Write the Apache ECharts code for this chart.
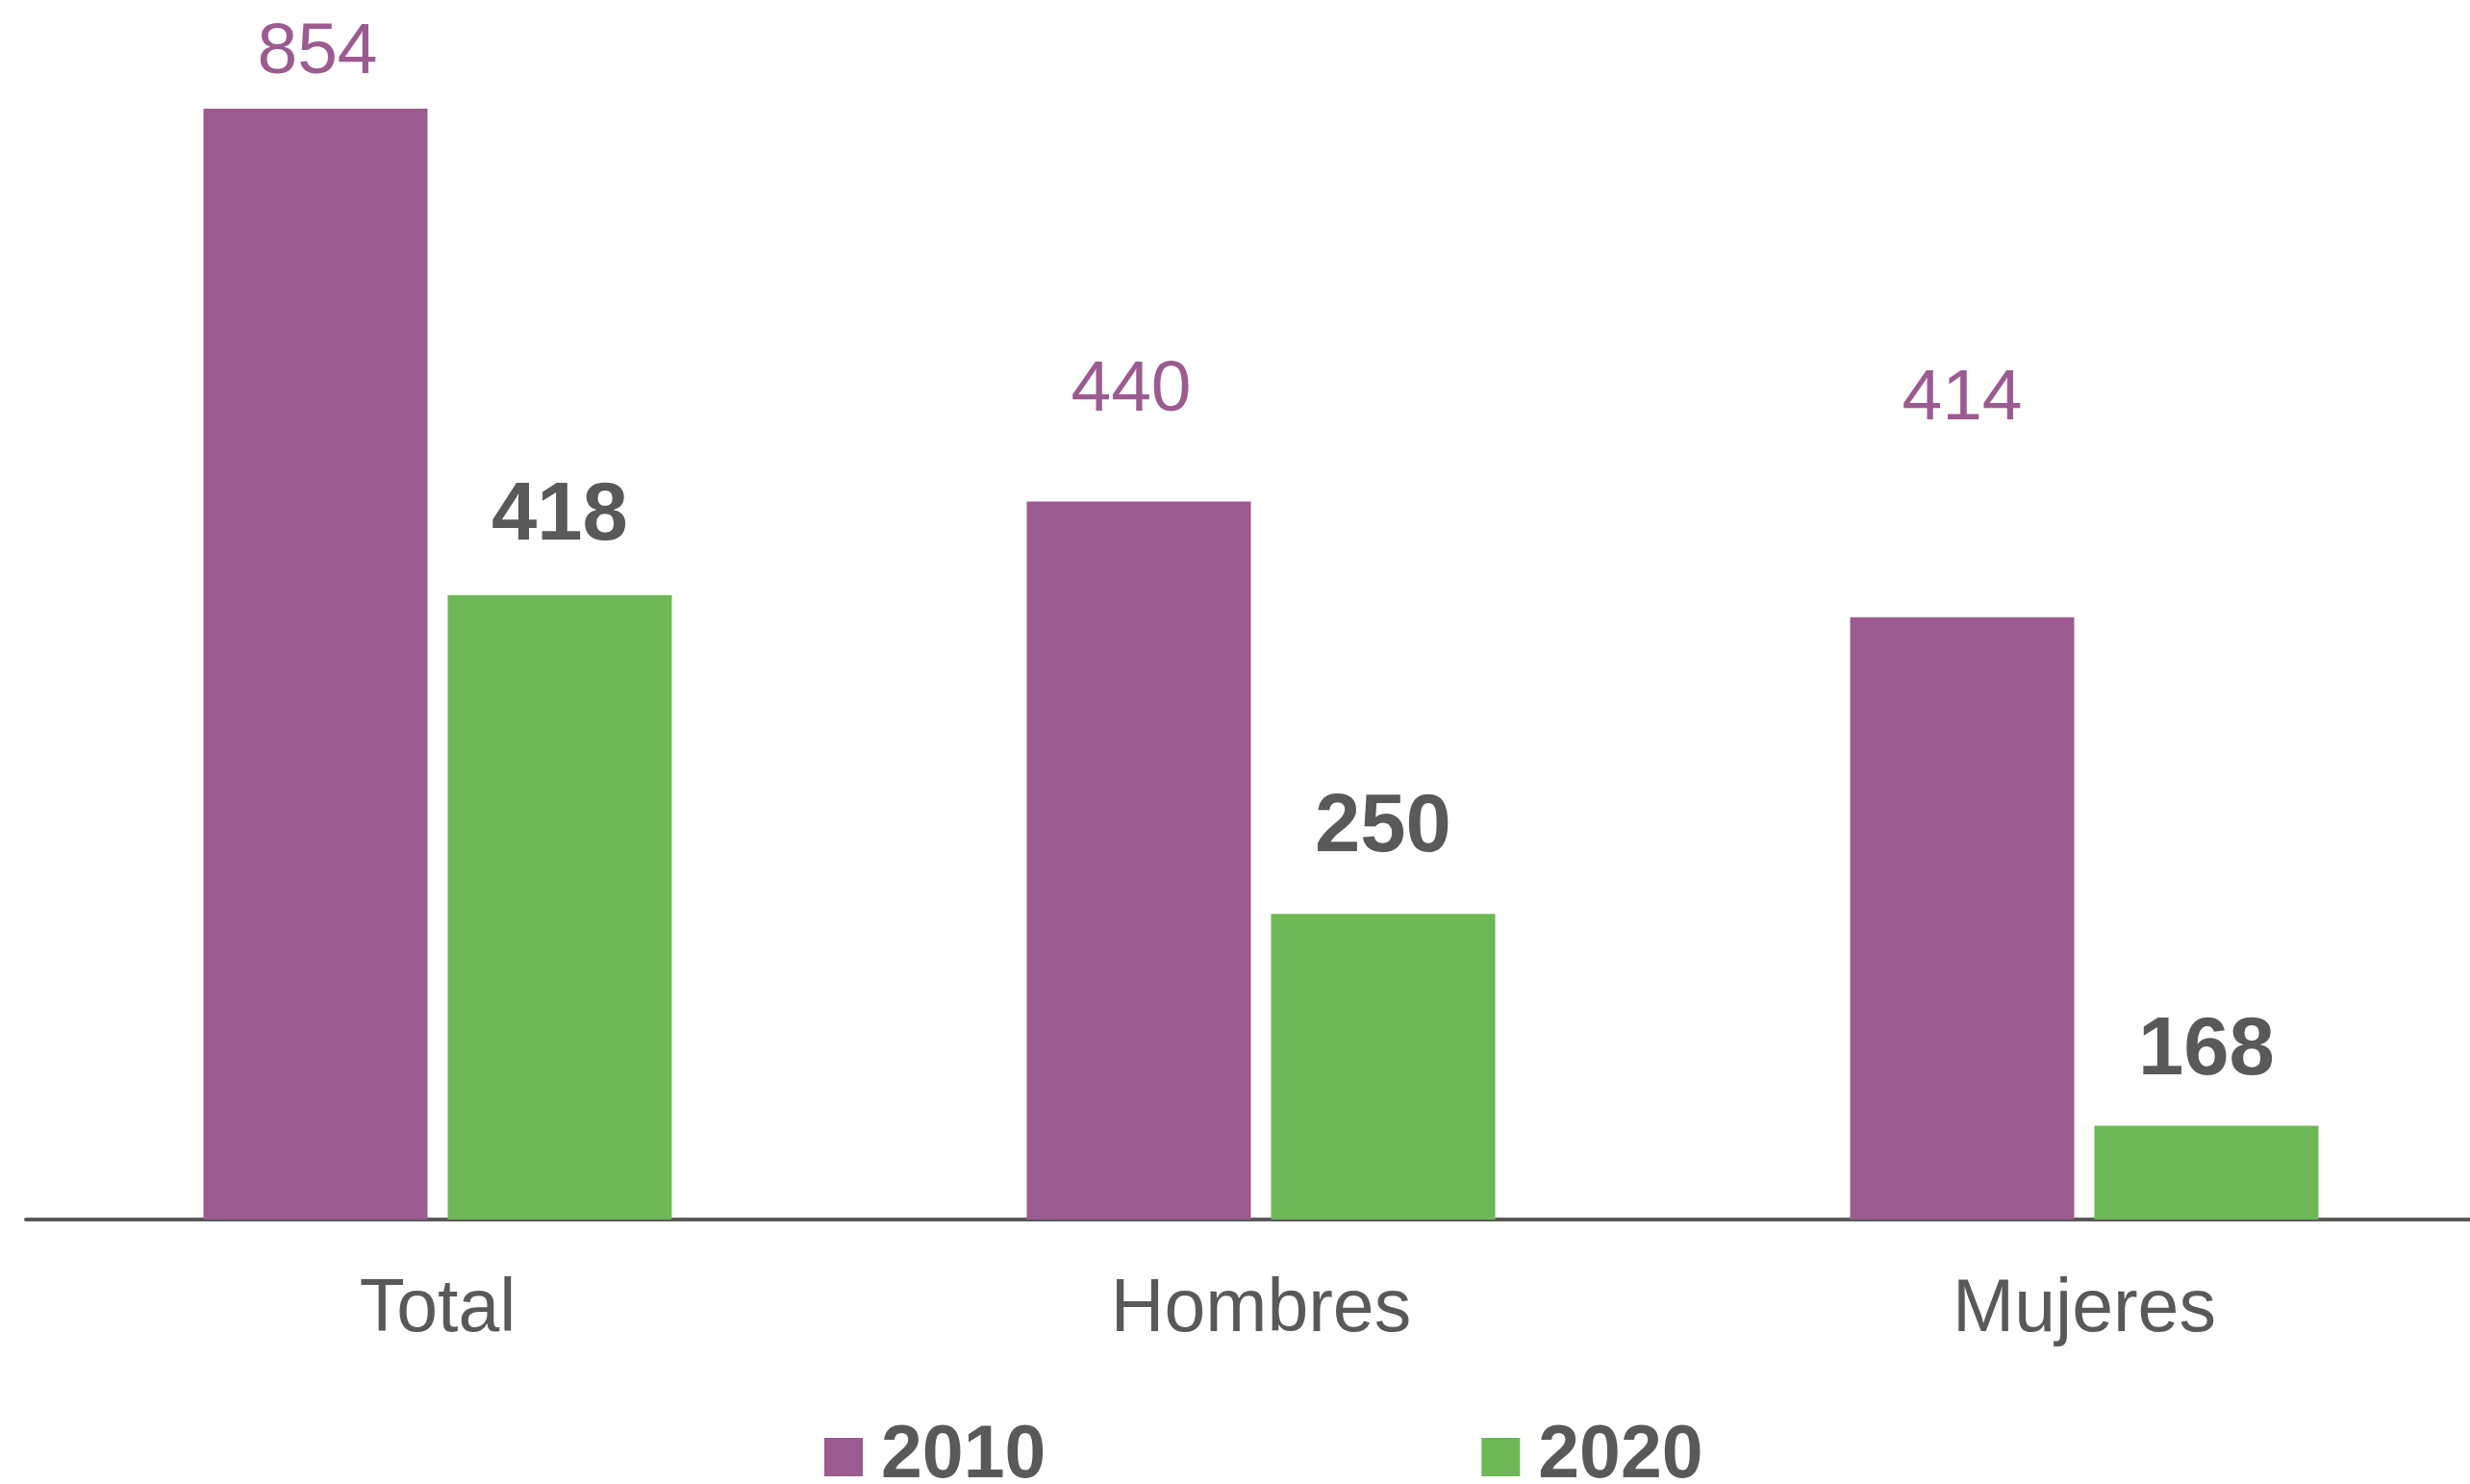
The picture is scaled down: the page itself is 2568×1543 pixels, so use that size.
<!DOCTYPE html>
<html>
<head>
<meta charset="utf-8">
<script src="https://cdn.jsdelivr.net/npm/echarts@6/dist/echarts.min.js"></script>
<style>
html,body{margin:0;padding:0;background:#fff;}
#chart{width:2568px;height:1543px;}
</style>
</head>
<body>
<div id="chart"></div>
<script>
// Categories and series names
const categories = ['Total', 'Hombres', 'Mujeres'];
const seriesNames = ['2010', '2020'];
// Printed value labels
const labels2010 = [854, 440, 414];
const labels2020 = [418, 250, 168];
// Bar heights as drawn in the picture (same unit as the 854 bar)
const bars2010 = [854, 552, 463];
const bars2020 = [480, 235, 72];

// label lift above bar tops (layout only)
const lift2010 = [20, 78, 189];
const lift2020 = [39, 46, 35];
const shift2010 = [2, -8, 0];

const purple = '#9B5B91';
const green = '#6DB757';
const grey = '#595959';
const font = '"Liberation Sans", Arial, sans-serif';

const chart = echarts.init(document.getElementById('chart'), null, {renderer: 'canvas'});

function makeData(vals, labs, lifts, shifts, style) {
  return vals.map((v, i) => ({
    value: v,
    label: Object.assign({
      show: true,
      position: 'top',
      distance: lifts[i],
      offset: [shifts ? shifts[i] : 0, 0],
      formatter: String(labs[i])
    }, style)
  }));
}

chart.setOption({
  animation: false,
  backgroundColor: '#ffffff',
  grid: {left: 27, width: 2568, top: 113, bottom: 275, containLabel: false, outerBoundsMode: 'none'},
  legend: {
    data: seriesNames,
    left: 852,
    top: 1465,
    itemWidth: 40,
    itemHeight: 40,
    itemGap: 453,
    icon: 'rect',
    textStyle: {color: grey, fontSize: 77, fontWeight: 'bold', fontFamily: font, lineHeight: 90, padding: [0,0,0,14]}
  },
  xAxis: {
    type: 'category',
    data: categories,
    offset: 2,
    axisLine: {show: true, lineStyle: {color: grey, width: 4}},
    axisTick: {show: false},
    axisLabel: {color: grey, fontSize: 77, fontFamily: font, margin: 54}
  },
  yAxis: {
    type: 'value',
    min: 0,
    max: 854,
    show: false,
    splitLine: {show: false}
  },
  series: [
    {
      name: seriesNames[0],
      type: 'bar',
      barWidth: 233,
      barGap: '9%',
      itemStyle: {color: purple},
      data: makeData(bars2010, labels2010, lift2010, shift2010,
        {color: purple, fontSize: 75, fontFamily: font})
    },
    {
      name: seriesNames[1],
      type: 'bar',
      barWidth: 233,
      barGap: '9%',
      itemStyle: {color: green},
      data: makeData(bars2020, labels2020, lift2020, null,
        {color: grey, fontSize: 85, fontWeight: 'bold', fontFamily: font})
    }
  ]
});
</script>
</body>
</html>
